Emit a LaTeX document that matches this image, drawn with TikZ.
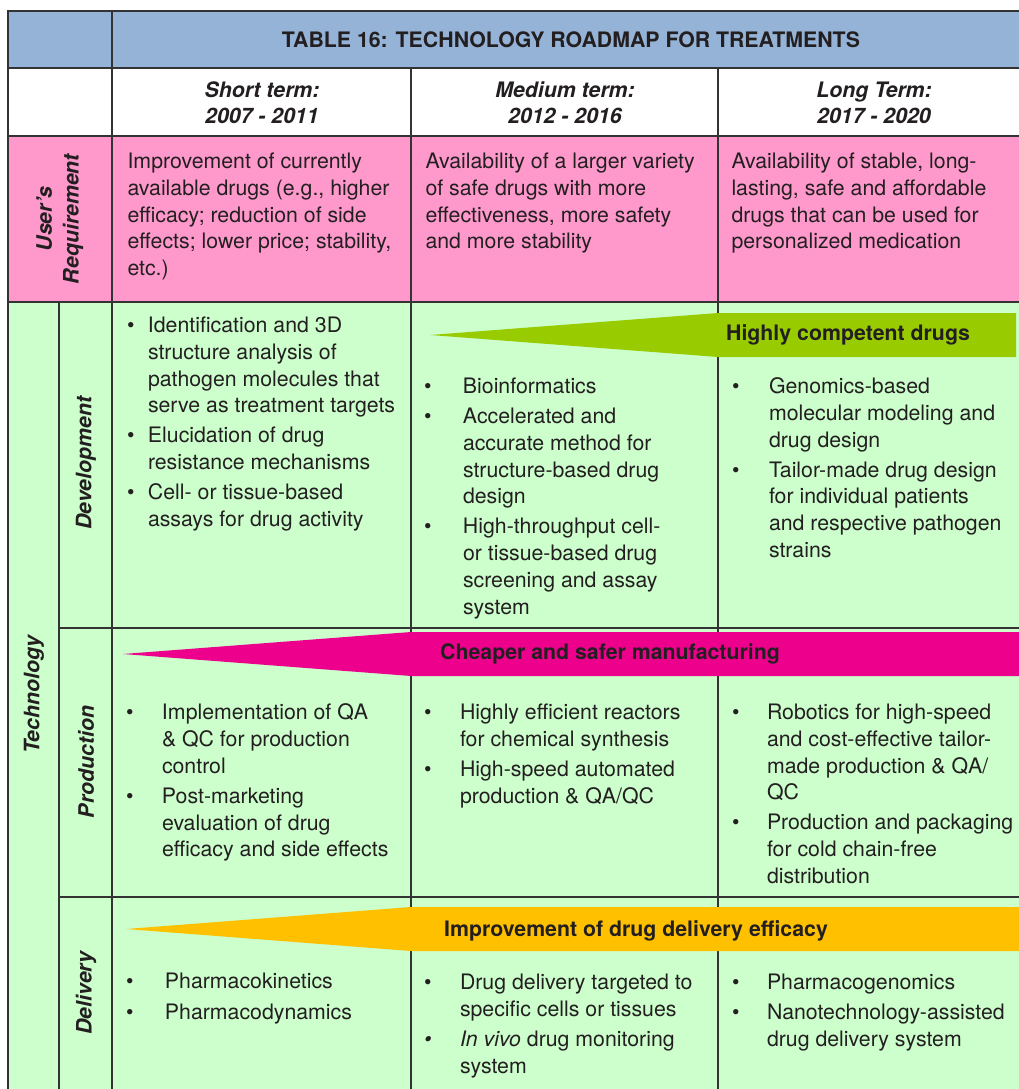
\documentclass[tikz,border=0pt]{standalone}
\usepackage{fontspec}
\setmainfont{TeX Gyre Heros}
\newcommand\bodyf{\fontsize{21.3}{26.7}\selectfont}
\definecolor{hdrblue}{HTML}{95B3D7}
\definecolor{reqpink}{HTML}{FF99CC}
\definecolor{techgreen}{HTML}{CCFFCC}
\definecolor{arrgreen}{HTML}{99CC00}
\definecolor{arrmag}{HTML}{EC008C}
\definecolor{arrorange}{HTML}{FFC000}
\definecolor{gridc}{HTML}{333333}
\definecolor{txt}{HTML}{231F20}
\begin{document}
\begin{tikzpicture}[x=1pt,y=-1pt,
  grid/.style={draw=gridc, line width=1.6pt},
  cell/.style={anchor=north west, inner sep=0pt, outer sep=0pt, align=left, font=\bodyf, text=txt},
  headtxt/.style={anchor=north, inner sep=0pt, align=center, font=\bodyf\bfseries\itshape, text=txt},
  sidelbl/.style={inner sep=0pt, align=center, rotate=90, font=\bodyf\bfseries\itshape, text=txt},
  bandtxt/.style={inner sep=0pt, font=\bodyf\bfseries, text=txt},
]
\useasboundingbox (0,0) rectangle (1019,1089);
% backgrounds
\fill[hdrblue] (8,11) rectangle (1019,68);
\fill[white] (8,68) rectangle (1019,136);
\fill[reqpink] (8,136) rectangle (1019,302);
\fill[techgreen] (8,302) rectangle (1019,1089);
% grid
\draw[grid] (1019,11) -- (8,11) -- (8,1089);
\draw[grid] (8,68) -- (1019,68);
\draw[grid] (8,136) -- (1019,136);
\draw[grid] (8,302) -- (1019,302);
\draw[grid] (59,628) -- (1019,628);
\draw[grid] (59,897) -- (1019,897);
\draw[grid] (112,11) -- (112,1089);
\draw[grid] (59,302) -- (59,1089);
\draw[grid] (411,68) -- (411,1089);
\draw[grid] (718,68) -- (718,1089);
% bands
\fill[arrgreen] (430,335) -- (718,313) -- (1016,313) -- (1016,357) -- (718,357) -- cycle;
\fill[arrmag] (123,654) -- (411,632) -- (1019,632) -- (1019,676) -- (411,676) -- cycle;
\fill[arrorange] (126,929) -- (411,907) -- (1019,907) -- (1019,951) -- (411,951) -- cycle;
\node[bandtxt] (bgreen) at (848,335) {Highly competent drugs};
\node[bandtxt] (bmag) at (610,654) {Cheaper and safer manufacturing};
\node[bandtxt] (borange) at (636,931) {Improvement of drug delivery efficacy};
% title and headers
\node[bandtxt] (title) at (571,40) {TABLE 16: TECHNOLOGY ROADMAP FOR TREATMENTS};
\node[headtxt] (t1) at (262,78.2) {\begin{tabular}{@{}c@{}}Short term:\\2007 - 2011\end{tabular}};
\node[headtxt] (t2) at (565,78.2) {\begin{tabular}{@{}c@{}}Medium term:\\2012 - 2016\end{tabular}};
\node[headtxt] (t3) at (874,78.2) {\begin{tabular}{@{}c@{}}Long Term:\\2017 - 2020\end{tabular}};
% side labels
\node[sidelbl] (lreq) at (60,219) {\begin{tabular}{@{}c@{}}User’s\\Requirement\end{tabular}};
\node[sidelbl] (ltech) at (34,695) {Technology};
\node[sidelbl] (ldev) at (86,463) {Development};
\node[sidelbl] (lprod) at (86,762) {Production};
\node[sidelbl] (ldel) at (86,993) {Delivery};
% user's requirement
\node[cell] (req1) at (127.5,150.2) {\begin{tabular}{@{}l@{}}Improvement of currently\\available drugs (e.g., higher\\efficacy; reduction of side\\effects; lower price; stability,\\etc.)\end{tabular}};
\node[cell] (req2) at (425.5,150.2) {\begin{tabular}{@{}l@{}}Availability of a larger variety\\of safe drugs with more\\effectiveness, more safety\\and more stability\end{tabular}};
\node[cell] (req3) at (731.5,150.2) {\begin{tabular}{@{}l@{}}Availability of stable, long-\\lasting, safe and affordable\\drugs that can be used for\\personalized medication\end{tabular}};
% development
\node[cell] (dev1) at (127,314.2) {\begin{tabular}{@{}p{21pt}@{}l@{}}
\textbullet & Identification and 3D\\
 & structure analysis of\\
 & pathogen molecules that\\
 & serve as treatment targets\\[3.3pt]
\textbullet & Elucidation of drug\\
 & resistance mechanisms\\[3.3pt]
\textbullet & Cell- or tissue-based\\
 & assays for drug activity
\end{tabular}};
\node[cell] (dev2) at (424,375.2) {\begin{tabular}{@{}p{39pt}@{}l@{}}
\textbullet & Bioinformatics\\[3.3pt]
\textbullet & Accelerated and\\
 & accurate method for\\
 & structure-based drug\\
 & design\\[3.3pt]
\textbullet & High-throughput cell-\\
 & or tissue-based drug\\
 & screening and assay\\
 & system
\end{tabular}};
\node[cell] (dev3) at (732,375.2) {\begin{tabular}{@{}p{37pt}@{}l@{}}
\textbullet & Genomics-based\\
 & molecular modeling and\\
 & drug design\\[3.3pt]
\textbullet & Tailor-made drug design\\
 & for individual patients\\
 & and respective pathogen\\
 & strains
\end{tabular}};
% production
\node[cell] (prod1) at (126,701.2) {\begin{tabular}{@{}p{36pt}@{}l@{}}
\textbullet & Implementation of QA\\
 & \& QC for production\\
 & control\\[3.3pt]
\textbullet & Post-marketing\\
 & evaluation of drug\\
 & efficacy and side effects
\end{tabular}};
\node[cell] (prod2) at (424,701.2) {\begin{tabular}{@{}p{36pt}@{}l@{}}
\textbullet & Highly efficient reactors\\
 & for chemical synthesis\\[3.3pt]
\textbullet & High-speed automated\\
 & production \& QA/QC
\end{tabular}};
\node[cell] (prod3) at (732,701.2) {\begin{tabular}{@{}p{35pt}@{}l@{}}
\textbullet & Robotics for high-speed\\
 & and cost-effective tailor-\\
 & made production \& QA/\\
 & QC\\[3.3pt]
\textbullet & Production and packaging\\
 & for cold chain-free\\
 & distribution
\end{tabular}};
% delivery
\node[cell] (del1) at (126,970.2) {\begin{tabular}{@{}p{39pt}@{}l@{}}
\textbullet & Pharmacokinetics\\[4pt]
\textbullet & Pharmacodynamics
\end{tabular}};
\node[cell] (del2) at (424,971.2) {\begin{tabular}{@{}p{36pt}@{}l@{}}
\textbullet & Drug delivery targeted to\\
 & specific cells or tissues\\[3.3pt]
{\itshape\textbullet} & \textit{In vivo} drug monitoring\\
 & system
\end{tabular}};
\node[cell] (del3) at (732,971.2) {\begin{tabular}{@{}p{35pt}@{}l@{}}
\textbullet & Pharmacogenomics\\[3.3pt]
\textbullet & Nanotechnology-assisted\\
 & drug delivery system
\end{tabular}};
\end{tikzpicture}
\end{document}
